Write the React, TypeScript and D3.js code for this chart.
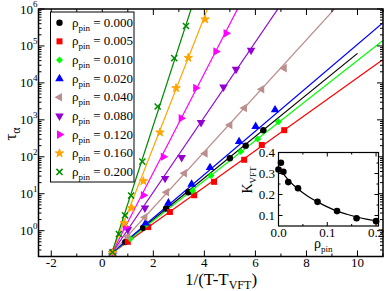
import React from 'react';
import * as d3 from 'd3';

// pinning densities shown in the legend
const pinLabels = ["0.000", "0.005", "0.010", "0.020", "0.040", "0.080", "0.120", "0.160", "0.200"];

// tau_alpha vs 1/(T-T_VFT)
const tau000 = [[0.40, 0.26], [0.90, 0.49], [1.60, 1.2], [2.50, 4.0], [3.37, 11], [5.00, 91], [5.62, 200], [6.31, 525]];
const tau005 = [[0.40, 0.25], [1.00, 0.5], [1.80, 1.25], [2.65, 3.2], [3.60, 9.1], [4.38, 21], [5.56, 83], [6.25, 209], [7.13, 525]];
const tau010 = [[0.40, 0.26], [1.10, 0.6], [1.74, 1.5], [3.54, 12], [4.26, 31], [5.43, 138], [6.09, 302], [6.90, 890]];
const tau020 = [[0.40, 0.25], [1.70, 1.6], [2.59, 5.6], [3.50, 18], [4.22, 51], [5.36, 257], [6.01, 660], [6.77, 1860]];
const tau040 = [[0.40, 0.24], [1.00, 0.7], [1.67, 2.3], [2.52, 11], [3.22, 36], [4.03, 123], [5.00, 724], [5.57, 2090], [6.25, 6760], [7.13, 25100]];
const tau080 = [[0.40, 0.24], [1.00, 1.07], [1.67, 4.1], [2.46, 26], [3.11, 95], [3.87, 850], [4.75, 7760], [5.24, 23400], [5.83, 76000]];
const tau120 = [[0.40, 0.25], [0.90, 1.26], [1.61, 9.1], [2.39, 100], [3.09, 1100], [3.66, 7240], [4.45, 70800], [4.85, 219000]];
const tau160 = [[0.40, 0.25], [0.86, 1.6], [1.15, 4.1], [1.61, 22], [2.26, 457], [2.89, 7240], [3.37, 47900], [4.03, 525000]];
const tau200 = [[0.40, 0.26], [0.65, 0.81], [0.89, 2.6], [1.13, 8.9], [1.57, 74], [2.17, 2290], [2.82, 46800], [3.28, 347000]];
const tauSeries = [tau000, tau005, tau010, tau020, tau040, tau080, tau120, tau160, tau200];

// straight VFT fits: common start, individual end
const fitStart = [0.37, 0.245];
const fitEnd = [[10.0, 63000], [11.0, 42700], [11.0, 141000], [11.0, 427000], [9.1, 1e6], [6.88, 1e6], [5.3, 1e6], [4.12, 1e6], [3.48, 1e6]];

// inset: K_VFT vs rho_pin
const kPin = [0, 0.005, 0.01, 0.02, 0.04, 0.08, 0.12, 0.16, 0.2];
const kVft = [0.319, 0.351, 0.308, 0.259, 0.23, 0.165, 0.121, 0.087, 0.073];
const kFitX = [0, 0.01, 0.02, 0.04, 0.06, 0.08, 0.10, 0.12, 0.14, 0.16, 0.18, 0.2];
const kFitY = [0.33, 0.298, 0.27, 0.226, 0.192, 0.165, 0.141, 0.121, 0.106, 0.093, 0.083, 0.075];

const xTicks = [-2, 0, 2, 4, 6, 8, 10];
const insetXTicks = [0, 0.1, 0.2];
const insetYTicks = [0.1, 0.2, 0.3, 0.4];

const colors = ['#000000', '#ff0000', '#00ff00', '#0000ff', '#bc8f8f', '#9400d3', '#ff00ff', '#ffa500', '#008b00'];

const W = 386, H = 291;
const L = 38.5, R = 383, T = 9, B = 256.5;

const x = d3.scaleLinear().domain([-2.5, 11]).range([L, R]);
const y = d3.scaleLog().domain([0.2, 1e6]).range([B, T]);

const iL = 278.5, iR = 378.5, iT = 152.5, iB = 226;
const ix = d3.scaleLinear().domain([0, 0.205]).range([iL, iR]);
const iy = d3.scaleLinear().domain([0.05, 0.4]).range([iB, iT]);

// marker for series i at (cx, cy)
function Marker({ i, cx, cy }: { i: number; cx: number; cy: number }) {
  const c = colors[i];
  const t = `translate(${cx},${cy})`;
  if (i === 0) return <circle cx={cx} cy={cy} r={3.2} fill={c} />;
  if (i === 1) return <rect x={cx - 3} y={cy - 3} width={6} height={6} fill={c} />;
  if (i === 2) return <path transform={t + ' rotate(45)'} d={d3.symbol().type(d3.symbolSquare).size(24)()!} fill={c} />;
  if (i >= 3 && i <= 6) {
    const rot = [0, -90, 180, 90][i - 3];
    return <path transform={t + ` rotate(${rot})`} d={d3.symbol().type(d3.symbolTriangle).size(32)()!} fill={c} />;
  }
  if (i === 7) return <path transform={t} d={d3.symbol().type(d3.symbolStar).size(22)()!} fill={c} stroke={c} strokeWidth={1} />;
  return <path transform={t} d={d3.symbol().type(d3.symbolTimes).size(26)()!} fill="none" stroke={c} strokeWidth={1.5} />;
}

export default function App() {
  const line = d3.line<number[]>().x(d => x(d[0])).y(d => y(d[1]));

  const yMajor = d3.range(0, 7).map(e => Math.pow(10, e));
  const yMinor: number[] = [];
  for (let e = -1; e < 6; e++) for (let k = 2; k <= 9; k++) {
    const v = k * Math.pow(10, e);
    if (v >= 0.2 && v <= 1e6) yMinor.push(v);
  }
  const xMinor = d3.range(-1, 12, 2);

  const kLine = d3.line<number>().x((d, j) => ix(kFitX[j])).y(d => iy(d)).curve(d3.curveMonotoneX);

  const legendY = (i: number) => 22.7 + i * 18.65;

  return (
    <svg width={W} height={H} style={{ position: 'absolute', left: 0, top: 0, background: '#fff' }} fontFamily="'Liberation Serif', serif">
      <defs>
        <clipPath id="plot"><rect x={L} y={T} width={R - L} height={B - T} /></clipPath>
      </defs>
      <rect x={0} y={0} width={W} height={H} fill="#fff" />

      <g clipPath="url(#plot)">
        {fitEnd.map((e, i) => (
          <path key={i} d={line([fitStart, e])!} stroke={colors[i]} strokeWidth={1.2} fill="none" />
        ))}
        {tauSeries.map((s, i) => s.map((p, j) => <Marker key={i + '-' + j} i={i} cx={x(p[0])} cy={y(p[1])} />))}
      </g>

      {/* frame and ticks */}
      <rect x={L} y={T} width={R - L} height={B - T} fill="none" stroke="#000" strokeWidth={1.5} />
      {xTicks.map(v => (
        <g key={'xt' + v}>
          <line x1={x(v)} x2={x(v)} y1={B} y2={B - 6} stroke="#000" />
          <line x1={x(v)} x2={x(v)} y1={T} y2={T + 6} stroke="#000" />
          <text x={x(v)} y={267} fontSize={13} textAnchor="middle">{v}</text>
        </g>
      ))}
      {xMinor.map(v => (
        <g key={'xm' + v}>
          <line x1={x(v)} x2={x(v)} y1={B} y2={B - 3} stroke="#000" />
          <line x1={x(v)} x2={x(v)} y1={T} y2={T + 3} stroke="#000" />
        </g>
      ))}
      {yMajor.map((v, e) => (
        <g key={'yt' + v}>
          <line x1={L} x2={L + 6} y1={y(v)} y2={y(v)} stroke="#000" />
          <line x1={R} x2={R - 6} y1={y(v)} y2={y(v)} stroke="#000" />
          <text x={33} y={y(v) + 4.5} fontSize={13} textAnchor="end">10</text>
          <text x={33} y={y(v) - 2} fontSize={9} textAnchor="start">{e}</text>
        </g>
      ))}
      {yMinor.map(v => (
        <g key={'ym' + v}>
          <line x1={L} x2={L + 3} y1={y(v)} y2={y(v)} stroke="#000" />
          <line x1={R} x2={R - 3} y1={y(v)} y2={y(v)} stroke="#000" />
        </g>
      ))}

      {/* axis labels */}
      <text x={221} y={285} fontSize={17} textAnchor="middle">
        1/(T-T<tspan fontSize={12} dy={4}>VFT</tspan><tspan dy={-4}>)</tspan>
      </text>
      <text transform={`translate(16,${134}) rotate(-90)`} fontSize={17} textAnchor="middle">
        τ<tspan fontSize={12} dy={4}>α</tspan>
      </text>

      {/* legend */}
      <rect x={50.5} y={12} width={83.5} height={170} fill="#fff" stroke="#000" strokeWidth={1} />
      {pinLabels.map((lab, i) => (
        <g key={'lg' + i}>
          <Marker i={i} cx={59.5} cy={legendY(i)} />
          <text x={72} y={legendY(i) + 4} fontSize={13}>
            ρ<tspan fontSize={9} dy={4}>pin</tspan><tspan dy={-4}> = {lab}</tspan>
          </text>
        </g>
      ))}

      {/* inset */}
      <rect x={iL} y={iT} width={iR - iL} height={iB - iT} fill="#fff" stroke="#000" strokeWidth={1.2} />
      {[0, 0.05, 0.1, 0.15, 0.2].map(v => {
        const len = insetXTicks.includes(v) ? 4 : 2;
        return (
          <g key={'ixt' + v}>
            <line x1={ix(v)} x2={ix(v)} y1={iB} y2={iB - len} stroke="#000" />
            <line x1={ix(v)} x2={ix(v)} y1={iT} y2={iT + len} stroke="#000" />
          </g>
        );
      })}
      {insetXTicks.map(v => (
        <text key={'ixl' + v} x={ix(v)} y={237} fontSize={13} textAnchor="middle">{v.toFixed(1)}</text>
      ))}
      {[0.1, 0.15, 0.2, 0.25, 0.3, 0.35].map(v => {
        const len = insetYTicks.includes(v) ? 4 : 2;
        return (
          <g key={'iyt' + v}>
            <line x1={iL} x2={iL + len} y1={iy(v)} y2={iy(v)} stroke="#000" />
            <line x1={iR} x2={iR - len} y1={iy(v)} y2={iy(v)} stroke="#000" />
          </g>
        );
      })}
      {insetYTicks.map(v => (
        <text key={'iyl' + v} x={275} y={iy(v) + 4.5} fontSize={13} textAnchor="end">{v.toFixed(1)}</text>
      ))}
      <path d={kLine(kFitY)!} fill="none" stroke="#000" strokeWidth={1.2} />
      {kPin.map((p, j) => <circle key={'k' + j} cx={ix(p)} cy={iy(kVft[j])} r={3.3} fill="#000" />)}
      <text x={314} y={248} fontSize={14}>
        ρ<tspan fontSize={9} dy={4}>pin</tspan>
      </text>
      <text transform={`translate(252,${180}) rotate(-90)`} fontSize={14} textAnchor="middle">
        K<tspan fontSize={9} dy={4}>VFT</tspan>
      </text>
    </svg>
  );
}
